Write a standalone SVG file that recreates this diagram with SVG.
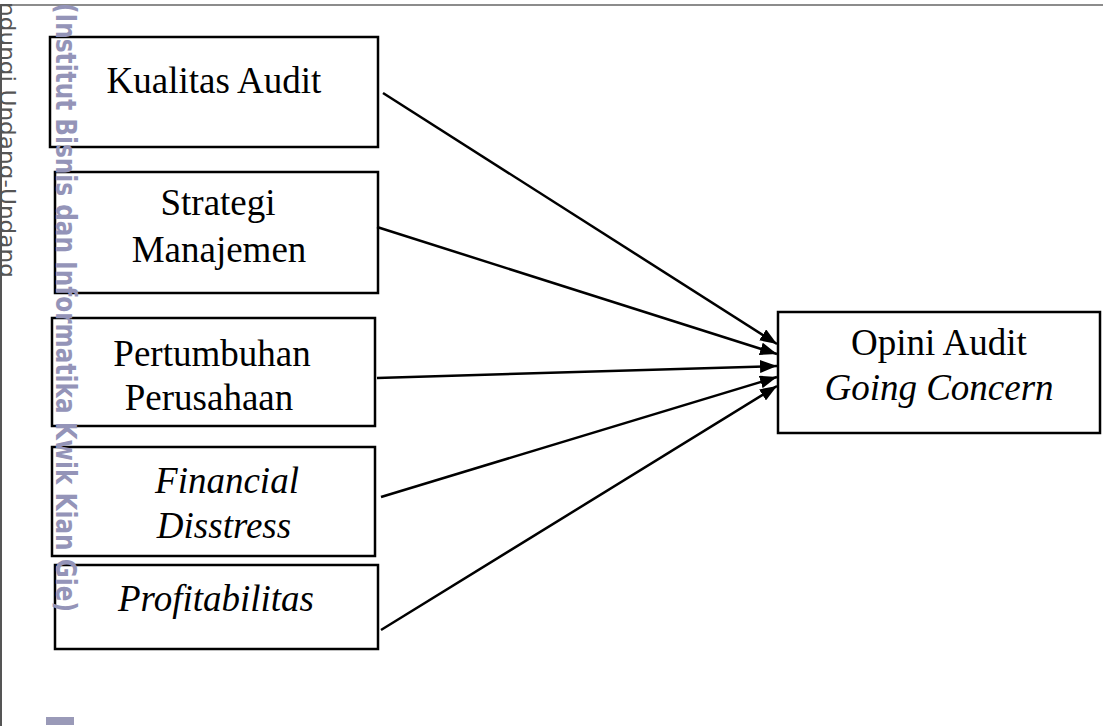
<svg xmlns="http://www.w3.org/2000/svg" width="1103" height="726" viewBox="0 0 1103 726">
<style>
.box{fill:#fff;stroke:#000;stroke-width:2.5}
.t{font-family:"Liberation Serif","Times New Roman",serif;font-size:37px;fill:#000;text-anchor:middle}
.i{font-style:italic}
.wm{font-family:"DejaVu Sans",sans-serif;font-weight:bold;font-size:28px;fill:#9494b8}
.conn line{stroke:#000;stroke-width:2.5}
</style>
<defs>
<marker id="ah" viewBox="0 0 17 13" refX="17" refY="6.5" markerWidth="17" markerHeight="13" markerUnits="userSpaceOnUse" orient="auto">
<path d="M0,0 L17,6.5 L0,13 z" fill="#000"/>
</marker>
</defs>
<rect width="1103" height="726" fill="#fff"/>
<g id="frame">
<line x1="0" y1="5" x2="1103" y2="5" stroke="#666" stroke-width="1.5"/>
<line x1="1" y1="5" x2="1" y2="726" stroke="#555" stroke-width="2"/>
<text transform="translate(0,2) rotate(90)" font-family="DejaVu Sans, sans-serif" font-size="22" fill="#555" textLength="276" lengthAdjust="spacingAndGlyphs">ndungi Undang-Undang</text>
</g>
<g id="n1"><rect class="box" x="50" y="37" width="328" height="110"/><text class="t" x="214" y="93">Kualitas Audit</text></g>
<g id="n2"><rect class="box" x="55" y="172" width="323" height="121"/><text class="t" x="218" y="215">Strategi</text><text class="t" x="219" y="262">Manajemen</text></g>
<g id="n3"><rect class="box" x="52" y="318" width="323" height="108"/><text class="t" x="212" y="366">Pertumbuhan</text><text class="t" x="209" y="410">Perusahaan</text></g>
<g id="n4"><rect class="box" x="52" y="447" width="323" height="109"/><text class="t i" x="227" y="493">Financial</text><text class="t i" x="224" y="538">Disstress</text></g>
<g id="n5"><rect class="box" x="55" y="565" width="323" height="84"/><text class="t i" x="216" y="611">Profitabilitas</text></g>
<g id="target"><rect class="box" x="778" y="312" width="322" height="121"/><text class="t" x="939" y="355">Opini Audit</text><text class="t i" x="939" y="400">Going Concern</text></g>
<g id="watermark">
<text class="wm" transform="translate(56,3) rotate(90)" textLength="609" lengthAdjust="spacingAndGlyphs">(Institut Bisnis dan Informatika Kwik Kian Gie)</text>
<rect x="46" y="717" width="28" height="8" fill="#9a9ab8"/>
</g>
<g class="conn" id="connectors">
<line x1="383" y1="93" x2="777" y2="344" marker-end="url(#ah)"/>
<line x1="377" y1="227" x2="777" y2="354" marker-end="url(#ah)"/>
<line x1="377" y1="378" x2="777" y2="366" marker-end="url(#ah)"/>
<line x1="381" y1="497" x2="777" y2="377" marker-end="url(#ah)"/>
<line x1="381" y1="630" x2="777" y2="386" marker-end="url(#ah)"/>
</g>
</svg>
